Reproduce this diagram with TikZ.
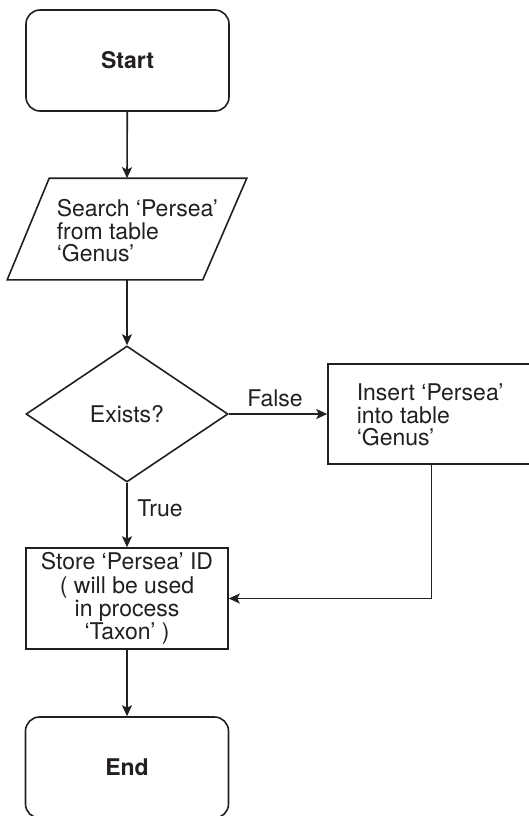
\documentclass[tikz,border=0pt]{standalone}
\usepackage{fontspec}
\setmainfont{TeX Gyre Heros}
\usetikzlibrary{arrows.meta,shapes.geometric}
\definecolor{ink}{HTML}{231F20}
\begin{document}
\begin{tikzpicture}[x=1pt,y=-1pt,
  line width=1.6pt, color=ink,
  txt/.style={inner sep=0pt, font=\fontsize{23}{22.5}\selectfont},
  term/.style={draw, rounded corners=14pt, minimum width=203pt, minimum height=101pt, inner sep=0pt,
     font=\fontsize{23}{22.5}\selectfont\bfseries},
  box/.style={draw, inner sep=0pt},
  ghost/.style={inner sep=0pt},
  conn/.style={-{Stealth[length=11pt,width=10pt,inset=2.5pt]}},
]
\useasboundingbox (0,0) rectangle (528,816);

\node[term] (start) at (127.5,60.5) {Start};

\node[ghost, minimum width=196pt, minimum height=100pt] (search) at (127,229) {};
\draw ([xshift=21pt]search.north west) -- ([xshift=21pt]search.north east)
  -- ([xshift=-23pt]search.south east) -- ([xshift=-21pt]search.south west) -- cycle;
\node[txt, align=left, anchor=west] (searchtxt) at (56,231) {Search ‘Persea’\\from table\\‘Genus’};

\node[draw, diamond, minimum width=202pt, minimum height=136pt, inner sep=0pt, txt] (exists) at (127,414) {Exists?};

\node[box, minimum width=207pt, minimum height=100pt] (insert) at (431.5,414) {};
\node[txt, align=left, anchor=west] (inserttxt) at (356,415) {Insert ‘Persea’\\into table\\‘Genus’};

\node[box, minimum width=202pt, minimum height=101pt, txt, align=center,
  font=\fontsize{23}{23.3}\selectfont] (store) at (127,598.5)
  {Store ‘Persea’ ID\\( will be used\\in process\\‘Taxon’ )};

\node[term] (end) at (127,767.5) {End};

\node[txt] (false) at (275,398) {False};
\node[txt] (true) at (160,508) {True};

\draw[conn] (start) -- (search.north);
\draw[conn] (search.south) -- (exists.north);
\draw[conn] (exists.east) -- (insert.west);
\draw[conn] (exists.south) -- (store.north);
\draw[conn] (insert.south) |- (store.east);
\draw[conn] (store.south) -- (end.north);
\end{tikzpicture}
\end{document}
